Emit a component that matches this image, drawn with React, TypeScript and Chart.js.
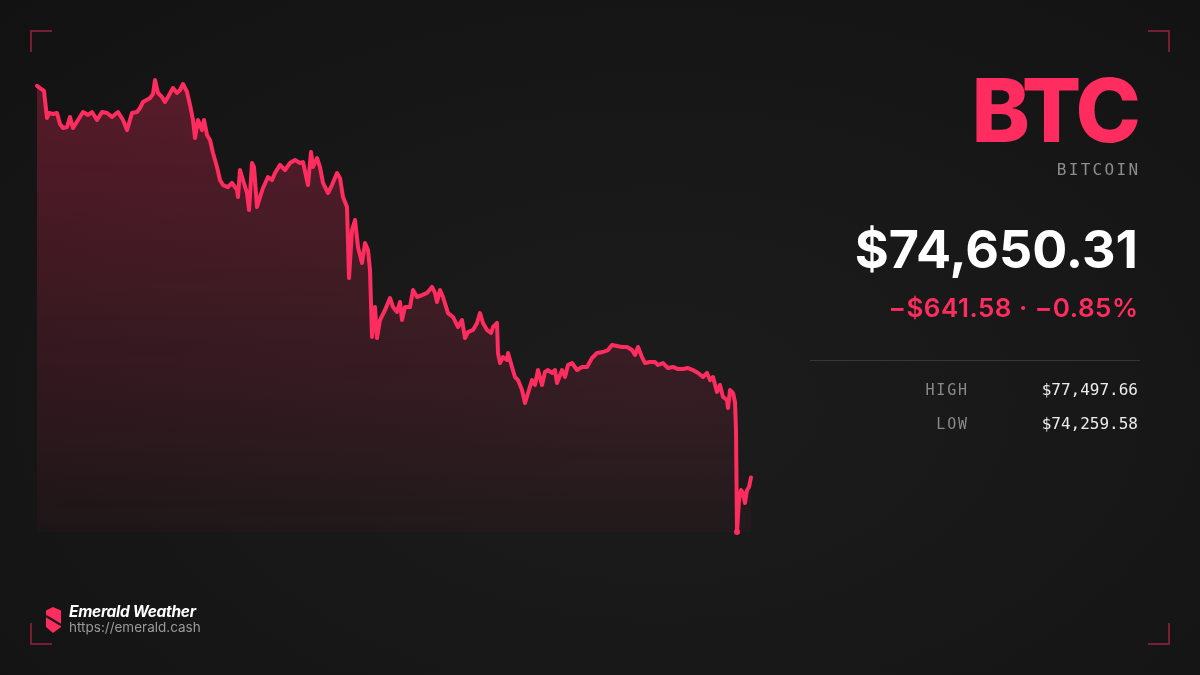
import React, { useEffect, useRef } from "react";
import { Chart, registerables } from "chart.js";

Chart.register(...registerables);

// minutes since start of window
const minutes = [
  0, 6, 14, 20, 24, 32, 40, 46, 52, 60, 66, 72, 82, 92, 102, 110, 120, 130, 140, 150,
  162, 172, 180, 190, 200, 206, 212, 226, 232, 236, 242, 250, 256, 262, 272, 280, 286, 292, 300, 306,
  312, 316, 322, 330, 334, 340, 346, 352, 360, 366, 372, 382, 390, 400, 402, 406, 412, 420, 424, 430,
  434, 440, 446, 452, 462, 470, 476, 486, 496, 506, 516, 526, 532, 542, 548, 552, 560, 566, 572, 582,
  590, 600, 606, 612, 620, 624, 630, 636, 642, 650, 656, 662, 666, 670, 676, 680, 686, 696, 706, 712,
  720, 726, 730, 736, 746, 752, 760, 770, 780, 790, 796, 800, 806, 812, 822, 832, 842, 850, 856, 862,
  872, 880, 886, 892, 900, 908, 912, 920, 922, 926, 932, 940, 942, 950, 956, 962, 970, 976, 982, 990,
  996, 1002, 1010, 1016, 1022, 1030, 1036, 1040, 1050, 1056, 1062, 1070, 1080, 1090, 1100, 1110, 1120, 1132, 1142, 1150,
  1160, 1170, 1180, 1190, 1196, 1202, 1210, 1216, 1226, 1236, 1242, 1252, 1262, 1272, 1282, 1292, 1302, 1312, 1322, 1332,
  1340, 1346, 1352, 1360, 1366, 1372, 1380, 1382, 1386, 1392, 1396, 1398, 1400, 1404, 1408, 1412, 1416, 1420, 1424, 1428,
];

// BTC price (USD)
const prices = [
  77455, 77440, 77419, 77225, 77261, 77254, 77261, 77182, 77154, 77161, 77233, 77154, 77211, 77268, 77247, 77268, 77211, 77268, 77261, 77233,
  77268, 77211, 77139, 77261, 77268, 77297, 77340, 77369, 77397, 77497.66, 77405, 77376, 77340, 77376, 77440, 77405, 77426, 77469, 77412, 77319,
  77211, 77082, 77211, 77139, 77211, 77104, 77068, 76975, 76874, 76781, 76745, 76731, 76760, 76710, 76659, 76853, 76781, 76688, 76566, 76903,
  76874, 76588, 76659, 76724, 76803, 76781, 76831, 76889, 76853, 76903, 76925, 76903, 76910, 76745, 76982, 76874, 76939, 76874, 76760, 76688,
  76745, 76831, 76796, 76659, 76588, 76079, 76423, 76495, 76301, 76187, 76330, 76280, 76137, 75657, 75871, 75649, 75778, 75850, 75936, 75871,
  75836, 75907, 75778, 75871, 75871, 75993, 75943, 75957, 75972, 76015, 75972, 75907, 75993, 75943, 75828, 75800, 75728, 75778, 75649, 75692,
  75707, 75757, 75828, 75757, 75707, 75685, 75728, 75757, 75542, 75470, 75513, 75492, 75542, 75442, 75370, 75348, 75277, 75184, 75255, 75348,
  75313, 75420, 75313, 75406, 75420, 75399, 75420, 75327, 75420, 75370, 75456, 75470, 75420, 75442, 75442, 75506, 75542, 75549, 75563, 75599,
  75592, 75585, 75585, 75563, 75528, 75585, 75513, 75470, 75477, 75477, 75456, 75470, 75434, 75442, 75427, 75427, 75434, 75420, 75399, 75370,
  75399, 75348, 75370, 75263, 75313, 75227, 75205, 75148, 75277, 75255, 75191, 74990, 74259.58, 74489, 74560, 74539, 74467, 74560, 74582, 74650.31,
];

const SYMBOL = "BTC";
const NAME = "BITCOIN";
const PRICE_TEXT = "$74,650.31";
const CHANGE_TEXT = "\u2212$641.58 \u00b7 \u22120.85%";
const HIGH_VALUE = 77497.66;
const LOW_VALUE = 74259.58;
const HIGH_TEXT = "$77,497.66";
const LOW_TEXT = "$74,259.58";
const BRAND = "Emerald Weather";
const BRAND_URL = "https://emerald.cash";

const RED = "#ff2d5f";
const INTER = "Inter, 'Noto Sans', sans-serif";
const MONO = "'DejaVu Sans Mono', 'Liberation Mono', monospace";

function Bracket({ x, y, corner }: { x: number; y: number; corner: string }) {
  const c = "rgba(255,45,95,0.42)";
  const s: React.CSSProperties = { position: "absolute", left: x, top: y, width: 22, height: 22, boxSizing: "border-box" };
  if (corner.includes("t")) s.borderTop = `2px solid ${c}`;
  if (corner.includes("b")) s.borderBottom = `2px solid ${c}`;
  if (corner.includes("l")) s.borderLeft = `2px solid ${c}`;
  if (corner.includes("r")) s.borderRight = `2px solid ${c}`;
  return <div style={s} />;
}

export default function App() {
  const ref = useRef<HTMLCanvasElement | null>(null);

  useEffect(() => {
    if (!ref.current) return;
    const minIdx = prices.indexOf(Math.min(...prices));
    const chart = new Chart(ref.current, {
      type: "line",
      data: {
        datasets: [
          {
            data: minutes.map((m, i) => ({ x: m, y: prices[i] })),
            borderColor: RED,
            borderWidth: 4,
            borderJoinStyle: "round",
            borderCapStyle: "round",
            tension: 0,
            clip: false as any,
            pointRadius: (c: any) => (c.dataIndex === minIdx ? 3 : 0),
            pointBackgroundColor: RED,
            pointBorderWidth: 0,
            fill: "start",
            backgroundColor: (c: any) => {
              const { chart: ch } = c;
              const area = ch.chartArea;
              if (!area) return "rgba(255,45,95,0.15)";
              const g = ch.ctx.createLinearGradient(0, area.top, 0, area.bottom);
              g.addColorStop(0, "rgba(255,45,95,0.29)");
              g.addColorStop(1, "rgba(255,45,95,0.03)");
              return g;
            },
          },
        ],
      },
      options: {
        responsive: false,
        animation: false,
        events: [],
        layout: { padding: { left: 37, right: 449, top: 80, bottom: 143 } },
        scales: {
          x: { type: "linear", display: false, min: minutes[0], max: minutes[minutes.length - 1] },
          y: { display: false, min: LOW_VALUE, max: HIGH_VALUE },
        },
        plugins: { legend: { display: false }, tooltip: { enabled: false } },
      },
    });
    return () => chart.destroy();
  }, []);

  const right = 62;

  return (
    <div
      style={{
        position: "fixed",
        left: 0,
        top: 0,
        width: 1200,
        height: 675,
        overflow: "hidden",
        background: "radial-gradient(ellipse at 55% 60%, #1c1c1c 0%, #171717 55%, #121212 100%)",
        fontFamily: INTER,
      }}
    >
      <canvas ref={ref} width={1200} height={675} style={{ position: "absolute", left: 0, top: 0 }} />

      <Bracket x={30} y={30} corner="tl" />
      <Bracket x={1148} y={30} corner="tr" />
      <Bracket x={30} y={623} corner="bl" />
      <Bracket x={1148} y={623} corner="br" />

      <div style={{ position: "absolute", right: right, top: 66, fontSize: 88, lineHeight: 1, fontWeight: 800, color: RED, letterSpacing: -3, fontFamily: INTER }}>
        {SYMBOL}
      </div>
      <div style={{ position: "absolute", right: right - 2.3, top: 161.5, fontSize: 16, lineHeight: 1, color: "#8d8d8d", letterSpacing: 2.3, fontFamily: MONO }}>
        {NAME}
      </div>
      <div style={{ position: "absolute", right: right, top: 224, fontSize: 52, lineHeight: 1, fontWeight: 700, color: "#ffffff", letterSpacing: 0, fontFamily: INTER }}>
        {PRICE_TEXT}
      </div>
      <div style={{ position: "absolute", right: right - 0.5, top: 294.5, fontSize: 26, lineHeight: 1, fontWeight: 600, color: RED, letterSpacing: 0.5, fontFamily: INTER }}>
        {CHANGE_TEXT}
      </div>

      <div style={{ position: "absolute", left: 810, top: 360, width: 330, height: 1, background: "#363636" }} />

      <div style={{ position: "absolute", right: 1200 - 967 - 1.8, top: 382.5, fontSize: 15, lineHeight: 1, color: "#8a8a8a", letterSpacing: 1.8, fontFamily: MONO }}>
        HIGH
      </div>
      <div style={{ position: "absolute", right: right, top: 381.5, fontSize: 16, lineHeight: 1, color: "#ececec", fontFamily: MONO }}>
        {HIGH_TEXT}
      </div>
      <div style={{ position: "absolute", right: 1200 - 967 - 1.8, top: 416.5, fontSize: 15, lineHeight: 1, color: "#8a8a8a", letterSpacing: 1.8, fontFamily: MONO }}>
        LOW
      </div>
      <div style={{ position: "absolute", right: right, top: 415.5, fontSize: 16, lineHeight: 1, color: "#ececec", fontFamily: MONO }}>
        {LOW_TEXT}
      </div>

      <svg style={{ position: "absolute", left: 43, top: 606 }} width={22} height={28} viewBox="0 0 22 28">
        <polygon points="10,1 18,4.5 18,21 10,27 3,21 3,4.5" fill={RED} />
        <line x1="3" y1="10" x2="18" y2="19" stroke="#1a1a1a" strokeWidth="2.2" />
      </svg>
      <div style={{ position: "absolute", left: 69, top: 604, fontSize: 15.5, lineHeight: 1, fontWeight: 700, fontStyle: "italic", color: "#ffffff", fontFamily: INTER, letterSpacing: -0.3 }}>
        {BRAND}
      </div>
      <div style={{ position: "absolute", left: 69, top: 621, fontSize: 13.5, lineHeight: 1, color: "#9a9a9a", fontFamily: INTER }}>
        {BRAND_URL}
      </div>
    </div>
  );
}
